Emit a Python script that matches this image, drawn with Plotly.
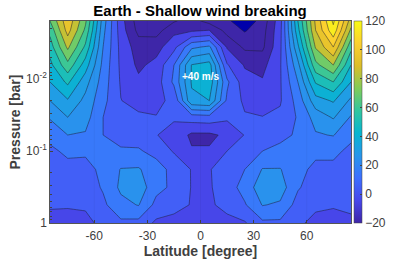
import plotly.graph_objects as go

lat = [-85, -75, -65, -55, -45, -35, -25, -15, -5, 5, 15, 25, 35, 45, 55, 65, 75, 85]
pressure = [1, 0.56, 0.32, 0.18, 0.10, 0.06, 0.034, 0.02, 0.011, 0.0064, 0.0036, 0.0021, 0.00156]
wind = [
    [-3, -4, -4, 4, 8, 7, -2, -3, -1, -3, -2, -1, 8, 8, 2, -3, -4, -2],
    [1, 1, 2, 8, 17, 20.5, 7, 3, -0.5, -1, 2, 9, 20.5, 18.5, 6, 2, 1, 2],
    [3, 4, 5, 11, 22, 26, 13, 8, -0.5, -1, 5, 14, 26, 25, 11, 5, 5, 4],
    [5, 7, 8, 11.5, 20.5, 21, 14, 7, -0.5, -1, 8, 10, 20.5, 20.5, 12.5, 8, 8, 6],
    [8, 12, 11, 10.5, 11, 11, 7, -1, -9, -9, 0, 5, 10, 12, 12, 12, 12, 8],
    [13, 20, 19, 10, 7, 6, 0.3, -3, -12, -12, -8, 0.5, 5, 8, 11, 19, 20.5, 12],
    [21, 30, 24, 10, 4, 1.5, 0.3, 1, 5, 6, 2, 1, 0.2, 2, 11, 24, 31, 19],
    [30, 39, 27, 13, 0.2, -3, -2, 2, 38, 40, 8, -2, -3, -1, 14, 36, 41, 28],
    [40, 52, 34, 15, -1, -8, -5, 12, 41, 46, 12, -6, -9, -1, 20, 51, 60, 40],
    [47, 67, 45, 17, -2, -12, -7, 10, 40.5, 44, 1, -11, -13, -1, 27, 67, 80, 50],
    [55, 82, 58, 20, -3, -15, -14, -3, 18, 22, -11, -22, -22, -2, 38, 81, 100, 63],
    [63, 94, 68, 23, -5, -23, -24, -13, -12, -10, -24, -31, -24, -3, 47, 90, 117, 78],
    [70, 97, 72, 25, -6, -25, -25, -21, -16, -24, -28, -37, -26, -4, 50, 92, 122, 85],
]
colorbar_ticks = [-20, 0, 20, 40, 60, 80, 100, 120]
x_ticks = [-60, -30, 0, 30, 60]

parula_rgb = [
    (62, 38, 168), (71, 71, 235), (62, 111, 255), (39, 150, 235), (8, 181, 208),
    (49, 198, 159), (129, 204, 89), (220, 189, 41), (252, 207, 48), (249, 251, 21),
]
parula = [[i / 9, "rgb(%d,%d,%d)" % c] for i, c in enumerate(parula_rgb)]


def parula_at(value):
    t = min(max((value + 20) / 140, 0), 1) * 9
    i = min(int(t), 8)
    f = t - i
    a, b = parula_rgb[i], parula_rgb[i + 1]
    return "rgb(%d,%d,%d)" % tuple(round(a[k] + (b[k] - a[k]) * f) for k in range(3))


zlow, zhigh, step = -40, 130, 10
fill_scale = []
for level in range(zlow, zhigh, step):
    if level < -30:
        color = "rgb(0,0,170)"
    elif level <= -20 or 30 <= level <= 70:
        color = parula_at(level)
    else:
        color = parula_at(level + 5)
    fill_scale.append([(level - zlow) / (zhigh - zlow), color])
    fill_scale.append([(level + step - zlow) / (zhigh - zlow), color])

FONT = "Liberation Sans"
INK = "#404040"

fig = go.Figure()
fig.add_trace(go.Contour(
    x=lat, y=pressure, z=wind, colorscale=fill_scale, zmin=zlow, zmax=zhigh,
    contours=dict(start=zlow, end=zhigh, size=step, coloring="fill"),
    line=dict(color="rgba(30,30,50,0.85)", width=0.6, smoothing=0),
    showscale=False, hoverinfo="skip",
))
fig.add_trace(go.Scatter(
    x=[None], y=[None], mode="markers", showlegend=False,
    marker=dict(color=[0], cmin=-20, cmax=120, colorscale=parula, showscale=True,
                colorbar=dict(
                    x=1.01, xanchor="left", xpad=0, ypad=0,
                    y=0, yanchor="bottom", len=1, lenmode="fraction",
                    thickness=8, thicknessmode="pixels",
                    tickvals=colorbar_ticks, ticks="inside", ticklen=2,
                    tickcolor="#444", outlinecolor="#444", outlinewidth=0.5,
                    tickfont=dict(family=FONT, size=12, color=INK))),
))
fig.add_annotation(x=0, y=-2.04, text="<b>+40 m/s</b>", showarrow=False,
                   font=dict(family=FONT, size=10, color="white"))
for v in x_ticks:
    fig.add_shape(type="line", xref="x", yref="paper", x0=v, x1=v, y0=0, y1=1,
                  line=dict(color="rgba(0,0,0,0.07)", width=0.6), layer="above")
fig.update_layout(
    template="none",
    width=407, height=260, margin=dict(l=50, r=56, t=21, b=37),
    paper_bgcolor="white", plot_bgcolor="white",
    title=dict(text="<b>Earth - Shallow wind breaking</b>", x=0.4915, xanchor="center",
               y=0.96, yanchor="middle", font=dict(family=FONT, size=15, color="black")),
    showlegend=False,
)
fig.update_xaxes(
    range=[-85, 85], tickvals=x_ticks, ticktext=[str(v) for v in x_ticks], automargin=False,
    ticks="inside", ticklen=3, tickcolor="#444", showline=True, linecolor="#555", linewidth=0.5,
    mirror=True, showgrid=False, zeroline=False, ticklabelstandoff=2,
    title=dict(text="<b>Latitude [degree]</b>", font=dict(family=FONT, size=14, color=INK), standoff=2),
    tickfont=dict(family=FONT, size=12, color=INK),
)
fig.update_yaxes(
    type="log", range=[0, -2.806], tickvals=[1, 0.1, 0.01], ticktext=["1", "10<sup>-1</sup>", "10<sup>-2</sup>"],
    automargin=False, minor=dict(ticks="inside", ticklen=2, tickcolor="#444", dtick="D1", showgrid=False),
    ticks="inside", ticklen=3, tickcolor="#444", showline=True, linecolor="#555", linewidth=0.5,
    mirror=True, showgrid=False, zeroline=False,
    title=dict(text="<b>Pressure [bar]</b>", font=dict(family=FONT, size=14, color=INK), standoff=2),
    tickfont=dict(family=FONT, size=12, color=INK),
)
fig.write_html("out.html", post_script="document.body.style.margin='0';",
               config={"displayModeBar": False})
